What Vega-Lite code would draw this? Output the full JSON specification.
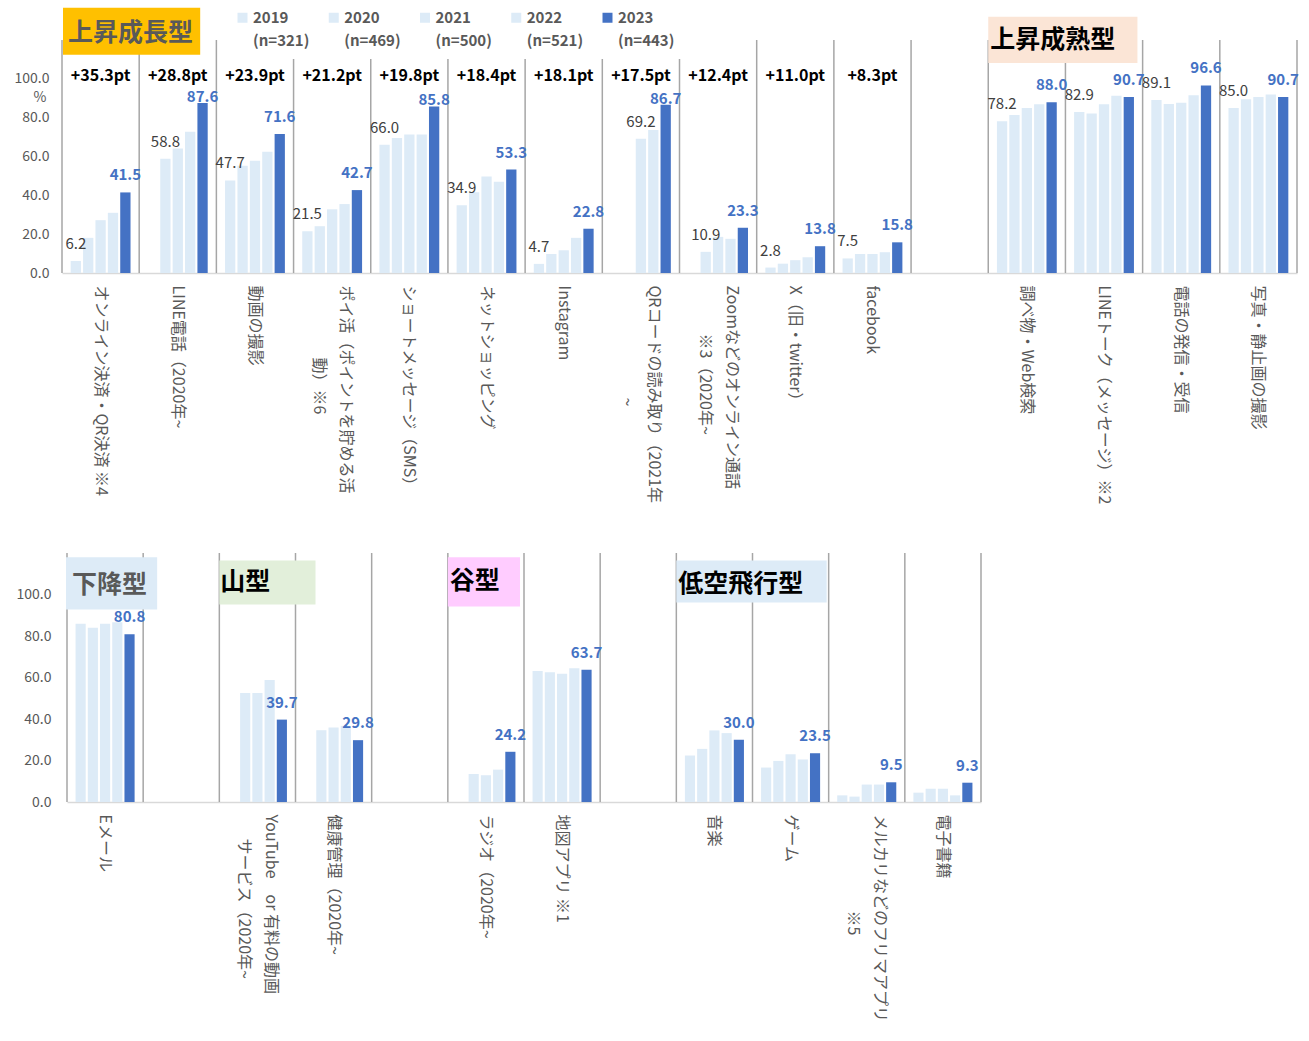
{
  "$schema": "https://vega.github.io/schema/vega-lite/v6.json",
  "padding": {"left": 14, "top": 0, "right": 4, "bottom": 0},
  "background": "white",
  "config": {
    "font": "Noto Sans CJK JP",
    "view": {"stroke": null},
    "axis": {"grid": false, "ticks": false},
    "style": {"guide-label": {"lineHeight": 23}}
  },
  "datasets": {
    "top": [
      {"cat": "オンライン決済・QR決済 ※4", "year": 2019, "value": 6.2},
      {"cat": "オンライン決済・QR決済 ※4", "year": 2020, "value": 18.1},
      {"cat": "オンライン決済・QR決済 ※4", "year": 2021, "value": 27.2},
      {"cat": "オンライン決済・QR決済 ※4", "year": 2022, "value": 31.0},
      {"cat": "オンライン決済・QR決済 ※4", "year": 2023, "value": 41.5},
      {"cat": "LINE電話（2020年~", "year": 2020, "value": 58.8},
      {"cat": "LINE電話（2020年~", "year": 2021, "value": 64.1},
      {"cat": "LINE電話（2020年~", "year": 2022, "value": 72.8},
      {"cat": "LINE電話（2020年~", "year": 2023, "value": 87.6},
      {"cat": "動画の撮影", "year": 2019, "value": 47.7},
      {"cat": "動画の撮影", "year": 2020, "value": 55.2},
      {"cat": "動画の撮影", "year": 2021, "value": 57.8},
      {"cat": "動画の撮影", "year": 2022, "value": 62.4},
      {"cat": "動画の撮影", "year": 2023, "value": 71.6},
      {"cat": "ポイ活（ポイントを貯める活動）※6", "year": 2019, "value": 21.5},
      {"cat": "ポイ活（ポイントを貯める活動）※6", "year": 2020, "value": 24.1},
      {"cat": "ポイ活（ポイントを貯める活動）※6", "year": 2021, "value": 32.8},
      {"cat": "ポイ活（ポイントを貯める活動）※6", "year": 2022, "value": 35.5},
      {"cat": "ポイ活（ポイントを貯める活動）※6", "year": 2023, "value": 42.7},
      {"cat": "ショートメッセージ（SMS）", "year": 2019, "value": 66.0},
      {"cat": "ショートメッセージ（SMS）", "year": 2020, "value": 69.5},
      {"cat": "ショートメッセージ（SMS）", "year": 2021, "value": 71.3},
      {"cat": "ショートメッセージ（SMS）", "year": 2022, "value": 71.3},
      {"cat": "ショートメッセージ（SMS）", "year": 2023, "value": 85.8},
      {"cat": "ネットショッピング", "year": 2019, "value": 34.9},
      {"cat": "ネットショッピング", "year": 2020, "value": 41.6},
      {"cat": "ネットショッピング", "year": 2021, "value": 49.7},
      {"cat": "ネットショッピング", "year": 2022, "value": 47.0},
      {"cat": "ネットショッピング", "year": 2023, "value": 53.3},
      {"cat": "Instagram", "year": 2019, "value": 4.7},
      {"cat": "Instagram", "year": 2020, "value": 9.8},
      {"cat": "Instagram", "year": 2021, "value": 11.7},
      {"cat": "Instagram", "year": 2022, "value": 18.1},
      {"cat": "Instagram", "year": 2023, "value": 22.8},
      {"cat": "QRコードの読み取り（2021年~", "year": 2021, "value": 69.2},
      {"cat": "QRコードの読み取り（2021年~", "year": 2022, "value": 73.6},
      {"cat": "QRコードの読み取り（2021年~", "year": 2023, "value": 86.7},
      {"cat": "Zoomなどのオンライン通話※3（2020年~", "year": 2020, "value": 10.9},
      {"cat": "Zoomなどのオンライン通話※3（2020年~", "year": 2021, "value": 18.6},
      {"cat": "Zoomなどのオンライン通話※3（2020年~", "year": 2022, "value": 17.6},
      {"cat": "Zoomなどのオンライン通話※3（2020年~", "year": 2023, "value": 23.3},
      {"cat": "X（旧・twitter）", "year": 2019, "value": 2.8},
      {"cat": "X（旧・twitter）", "year": 2020, "value": 4.8},
      {"cat": "X（旧・twitter）", "year": 2021, "value": 6.6},
      {"cat": "X（旧・twitter）", "year": 2022, "value": 8.1},
      {"cat": "X（旧・twitter）", "year": 2023, "value": 13.8},
      {"cat": "facebook", "year": 2019, "value": 7.5},
      {"cat": "facebook", "year": 2020, "value": 9.8},
      {"cat": "facebook", "year": 2021, "value": 9.8},
      {"cat": "facebook", "year": 2022, "value": 10.7},
      {"cat": "facebook", "year": 2023, "value": 15.8},
      {"cat": "調べ物・Web検索", "year": 2019, "value": 78.2},
      {"cat": "調べ物・Web検索", "year": 2020, "value": 81.4},
      {"cat": "調べ物・Web検索", "year": 2021, "value": 85.0},
      {"cat": "調べ物・Web検索", "year": 2022, "value": 86.9},
      {"cat": "調べ物・Web検索", "year": 2023, "value": 88.0},
      {"cat": "LINEトーク（メッセージ）※2", "year": 2019, "value": 82.9},
      {"cat": "LINEトーク（メッセージ）※2", "year": 2020, "value": 82.2},
      {"cat": "LINEトーク（メッセージ）※2", "year": 2021, "value": 86.9},
      {"cat": "LINEトーク（メッセージ）※2", "year": 2022, "value": 91.3},
      {"cat": "LINEトーク（メッセージ）※2", "year": 2023, "value": 90.7},
      {"cat": "電話の発信・受信", "year": 2019, "value": 89.1},
      {"cat": "電話の発信・受信", "year": 2020, "value": 87.1},
      {"cat": "電話の発信・受信", "year": 2021, "value": 87.7},
      {"cat": "電話の発信・受信", "year": 2022, "value": 91.5},
      {"cat": "電話の発信・受信", "year": 2023, "value": 96.6},
      {"cat": "写真・静止画の撮影", "year": 2019, "value": 85.0},
      {"cat": "写真・静止画の撮影", "year": 2020, "value": 89.5},
      {"cat": "写真・静止画の撮影", "year": 2021, "value": 90.7},
      {"cat": "写真・静止画の撮影", "year": 2022, "value": 91.9},
      {"cat": "写真・静止画の撮影", "year": 2023, "value": 90.7}
    ],
    "topcats": [
      {"cat": "オンライン決済・QR決済 ※4", "diff": "+35.3pt"},
      {"cat": "LINE電話（2020年~", "diff": "+28.8pt"},
      {"cat": "動画の撮影", "diff": "+23.9pt"},
      {"cat": "ポイ活（ポイントを貯める活動）※6", "diff": "+21.2pt"},
      {"cat": "ショートメッセージ（SMS）", "diff": "+19.8pt"},
      {"cat": "ネットショッピング", "diff": "+18.4pt"},
      {"cat": "Instagram", "diff": "+18.1pt"},
      {"cat": "QRコードの読み取り（2021年~", "diff": "+17.5pt"},
      {"cat": "Zoomなどのオンライン通話※3（2020年~", "diff": "+12.4pt"},
      {"cat": "X（旧・twitter）", "diff": "+11.0pt"},
      {"cat": "facebook", "diff": "+8.3pt"},
      {"cat": " ", "diff": ""},
      {"cat": "調べ物・Web検索", "diff": ""},
      {"cat": "LINEトーク（メッセージ）※2", "diff": ""},
      {"cat": "電話の発信・受信", "diff": ""},
      {"cat": "写真・静止画の撮影", "diff": ""}
    ],
    "bottom": [
      {"cat": "Eメール", "year": 2019, "value": 85.9},
      {"cat": "Eメール", "year": 2020, "value": 84.0},
      {"cat": "Eメール", "year": 2021, "value": 85.9},
      {"cat": "Eメール", "year": 2022, "value": 86.6},
      {"cat": "Eメール", "year": 2023, "value": 80.8},
      {"cat": "YouTube　or 有料の動画サービス（2020年~", "year": 2020, "value": 52.5},
      {"cat": "YouTube　or 有料の動画サービス（2020年~", "year": 2021, "value": 52.5},
      {"cat": "YouTube　or 有料の動画サービス（2020年~", "year": 2022, "value": 58.8},
      {"cat": "YouTube　or 有料の動画サービス（2020年~", "year": 2023, "value": 39.7},
      {"cat": "健康管理（2020年~", "year": 2020, "value": 34.6},
      {"cat": "健康管理（2020年~", "year": 2021, "value": 35.9},
      {"cat": "健康管理（2020年~", "year": 2022, "value": 36.7},
      {"cat": "健康管理（2020年~", "year": 2023, "value": 29.8},
      {"cat": "ラジオ（2020年~", "year": 2020, "value": 13.5},
      {"cat": "ラジオ（2020年~", "year": 2021, "value": 12.9},
      {"cat": "ラジオ（2020年~", "year": 2022, "value": 15.6},
      {"cat": "ラジオ（2020年~", "year": 2023, "value": 24.2},
      {"cat": "地図アプリ ※1", "year": 2019, "value": 63.1},
      {"cat": "地図アプリ ※1", "year": 2020, "value": 62.5},
      {"cat": "地図アプリ ※1", "year": 2021, "value": 61.8},
      {"cat": "地図アプリ ※1", "year": 2022, "value": 64.4},
      {"cat": "地図アプリ ※1", "year": 2023, "value": 63.7},
      {"cat": "音楽", "year": 2019, "value": 22.4},
      {"cat": "音楽", "year": 2020, "value": 25.6},
      {"cat": "音楽", "year": 2021, "value": 34.5},
      {"cat": "音楽", "year": 2022, "value": 33.2},
      {"cat": "音楽", "year": 2023, "value": 30.0},
      {"cat": "ゲーム", "year": 2019, "value": 16.6},
      {"cat": "ゲーム", "year": 2020, "value": 19.8},
      {"cat": "ゲーム", "year": 2021, "value": 23.0},
      {"cat": "ゲーム", "year": 2022, "value": 20.5},
      {"cat": "ゲーム", "year": 2023, "value": 23.5},
      {"cat": "メルカリなどのフリマアプリ※5", "year": 2019, "value": 3.2},
      {"cat": "メルカリなどのフリマアプリ※5", "year": 2020, "value": 2.6},
      {"cat": "メルカリなどのフリマアプリ※5", "year": 2021, "value": 8.4},
      {"cat": "メルカリなどのフリマアプリ※5", "year": 2022, "value": 8.4},
      {"cat": "メルカリなどのフリマアプリ※5", "year": 2023, "value": 9.5},
      {"cat": "電子書籍", "year": 2019, "value": 4.5},
      {"cat": "電子書籍", "year": 2020, "value": 6.4},
      {"cat": "電子書籍", "year": 2021, "value": 6.4},
      {"cat": "電子書籍", "year": 2022, "value": 3.2},
      {"cat": "電子書籍", "year": 2023, "value": 9.3}
    ],
    "botcats": [
      {"cat": "Eメール"}, {"cat": " "}, {"cat": "YouTube　or 有料の動画サービス（2020年~"}, {"cat": "健康管理（2020年~"},
      {"cat": "  "}, {"cat": "ラジオ（2020年~"}, {"cat": "地図アプリ ※1"}, {"cat": "   "},
      {"cat": "音楽"}, {"cat": "ゲーム"}, {"cat": "メルカリなどのフリマアプリ※5"}, {"cat": "電子書籍"}
    ],
    "ann": [
      {"label": "上昇成長型"}, {"label": "上昇成熟型"}, {"label": "下降型"}, {"label": "山型"}, {"label": "谷型"}, {"label": "低空飛行型"}
    ]
  },
  "spacing": 47,
  "resolve": {"scale": {"x": "independent", "y": "independent", "xOffset": "independent"}},
  "vconcat": [
    {
      "width": 1235,
      "height": 233,
      "layer": [
        {
          "data": {"name": "top"},
          "mark": {"type": "bar"},
          "encoding": {
            "x": {"field": "cat", "type": "nominal", "scale": {"domain": ["オンライン決済・QR決済 ※4", "LINE電話（2020年~", "動画の撮影", "ポイ活（ポイントを貯める活動）※6", "ショートメッセージ（SMS）", "ネットショッピング", "Instagram", "QRコードの読み取り（2021年~", "Zoomなどのオンライン通話※3（2020年~", "X（旧・twitter）", "facebook", " ", "調べ物・Web検索", "LINEトーク（メッセージ）※2", "電話の発信・受信", "写真・静止画の撮影"], "paddingInner": 0, "paddingOuter": 0},
              "axis": {"title": null, "labelAngle": 90, "labelAlign": "left", "labelBaseline": "middle", "labelPadding": 12, "labelFontSize": 16, "labelColor": "#595959", "labelLineHeight": 27, "labelLimit": 400, "labelOverlap": false, "labelBound": false, "domainColor": "#D9D9D9", "domainWidth": 1.5,
                "labelOffset": {"condition": {"test": "datum.value == 'ポイ活（ポイントを貯める活動）※6' || datum.value == 'QRコードの読み取り（2021年~' || datum.value == 'Zoomなどのオンライン通話※3（2020年~'", "value": 13.5}, "value": 0},
                "labelExpr": "datum.label == 'ポイ活（ポイントを貯める活動）※6' ? ['ポイ活（ポイントを貯める活', '\u200B\u3000\u3000\u3000\u3000\u2002動）※6'] : datum.label == 'QRコードの読み取り（2021年~' ? ['QRコードの読み取り（2021年', '\u200B\u3000\u3000\u3000\u3000\u3000\u3000\u3000~'] : datum.label == 'Zoomなどのオンライン通話※3（2020年~' ? ['Zoomなどのオンライン通話', '\u200B\u3000\u3000\u3000※3（2020年~'] : datum.label"}},
            "xOffset": {"field": "year", "type": "nominal", "scale": {"domain": [2019, 2020, 2021, 2022, 2023], "paddingInner": 0.17, "paddingOuter": 0.7}},
            "y": {"field": "value", "type": "quantitative", "scale": {"domain": [0, 120]},
              "axis": {"values": [0, 20, 40, 60, 80, 100], "format": ".1f", "domain": false, "labelPadding": 13, "labelFontSize": 14, "labelColor": "#595959", "title": "%", "titleAngle": 0, "titleX": -16, "titleY": 57, "titleAlign": "right", "titleBaseline": "middle", "titleFontWeight": "normal", "titleFontSize": 14, "titleColor": "#595959"}},
            "color": {"field": "year", "type": "nominal", "scale": {"domain": [2019, 2020, 2021, 2022, 2023], "range": ["#DDEBF7", "#DDEBF7", "#DDEBF7", "#DDEBF7", "#4472C4"]},
              "legend": {"title": null, "orient": "none", "legendX": 163, "legendY": -40, "direction": "horizontal", "columns": 5, "columnPadding": 16.25, "symbolType": "square", "symbolSize": 100, "symbolStrokeWidth": 0, "labelFontSize": 15, "labelFontWeight": "bold", "labelColor": "#595959", "labelOffset": 3, "labelBaseline": "middle", "labelLimit": 200, "fillColor": "white", "padding": 10,
                "labelExpr": "datum.value == 2019 ? ['2019', '(n=321)'] : datum.value == 2020 ? ['2020', '(n=469)'] : datum.value == 2021 ? ['2021', '(n=500)'] : datum.value == 2022 ? ['2022', '(n=521)'] : ['2023', '(n=443)']"}}
          }
        },
        {
          "data": {"name": "topcats"},
          "mark": {"type": "rule", "color": "#A6A6A6", "strokeWidth": 1.5},
          "encoding": {
            "x": {"field": "cat", "type": "nominal", "bandPosition": 0, "scale": {"domain": ["オンライン決済・QR決済 ※4", "LINE電話（2020年~", "動画の撮影", "ポイ活（ポイントを貯める活動）※6", "ショートメッセージ（SMS）", "ネットショッピング", "Instagram", "QRコードの読み取り（2021年~", "Zoomなどのオンライン通話※3（2020年~", "X（旧・twitter）", "facebook", " ", "調べ物・Web検索", "LINEトーク（メッセージ）※2", "電話の発信・受信", "写真・静止画の撮影"], "paddingInner": 0, "paddingOuter": 0}},
            "y": {"datum": 0, "type": "quantitative", "scale": {"domain": [0, 120]}},
            "y2": {"datum": 120}
          }
        },
        {
          "data": {"name": "topcats"},
          "transform": [{"filter": "datum.cat == '写真・静止画の撮影'"}],
          "mark": {"type": "rule", "color": "#A6A6A6", "strokeWidth": 1.5},
          "encoding": {
            "x": {"field": "cat", "type": "nominal", "bandPosition": 1, "scale": {"domain": ["オンライン決済・QR決済 ※4", "LINE電話（2020年~", "動画の撮影", "ポイ活（ポイントを貯める活動）※6", "ショートメッセージ（SMS）", "ネットショッピング", "Instagram", "QRコードの読み取り（2021年~", "Zoomなどのオンライン通話※3（2020年~", "X（旧・twitter）", "facebook", " ", "調べ物・Web検索", "LINEトーク（メッセージ）※2", "電話の発信・受信", "写真・静止画の撮影"], "paddingInner": 0, "paddingOuter": 0}},
            "y": {"datum": 0, "type": "quantitative", "scale": {"domain": [0, 120]}},
            "y2": {"datum": 120}
          }
        },
        {
          "data": {"name": "top"},
          "transform": [
            {"joinaggregate": [{"op": "min", "field": "year", "as": "firstYear"}], "groupby": ["cat"]},
            {"filter": "datum.year == datum.firstYear"}
          ],
          "mark": {"type": "text", "baseline": "bottom", "dy": -9, "fontSize": 15, "color": "#404040"},
          "encoding": {
            "x": {"field": "cat", "type": "nominal", "scale": {"domain": ["オンライン決済・QR決済 ※4", "LINE電話（2020年~", "動画の撮影", "ポイ活（ポイントを貯める活動）※6", "ショートメッセージ（SMS）", "ネットショッピング", "Instagram", "QRコードの読み取り（2021年~", "Zoomなどのオンライン通話※3（2020年~", "X（旧・twitter）", "facebook", " ", "調べ物・Web検索", "LINEトーク（メッセージ）※2", "電話の発信・受信", "写真・静止画の撮影"], "paddingInner": 0, "paddingOuter": 0}},
            "xOffset": {"field": "year", "type": "nominal", "scale": {"domain": [2019, 2020, 2021, 2022, 2023], "paddingInner": 0.17, "paddingOuter": 0.7}},
            "y": {"field": "value", "type": "quantitative", "scale": {"domain": [0, 120]}},
            "text": {"field": "value", "type": "quantitative", "format": ".1f"}
          }
        },
        {
          "data": {"name": "top"},
          "transform": [
            {"filter": "datum.year == 2023"},
            {"lookup": "cat", "from": {"data": {"name": "topcats"}, "key": "cat", "fields": ["diff"]}}
          ],
          "mark": {"type": "text", "baseline": "bottom", "dy": {"expr": "datum.diff != '' && datum.value > 80 ? 2 : -9"}, "fontSize": 15, "fontWeight": "bold", "color": "#4472C4"},
          "encoding": {
            "x": {"field": "cat", "type": "nominal", "scale": {"domain": ["オンライン決済・QR決済 ※4", "LINE電話（2020年~", "動画の撮影", "ポイ活（ポイントを貯める活動）※6", "ショートメッセージ（SMS）", "ネットショッピング", "Instagram", "QRコードの読み取り（2021年~", "Zoomなどのオンライン通話※3（2020年~", "X（旧・twitter）", "facebook", " ", "調べ物・Web検索", "LINEトーク（メッセージ）※2", "電話の発信・受信", "写真・静止画の撮影"], "paddingInner": 0, "paddingOuter": 0}},
            "xOffset": {"field": "year", "type": "nominal", "scale": {"domain": [2019, 2020, 2021, 2022, 2023], "paddingInner": 0.17, "paddingOuter": 0.7}},
            "y": {"field": "value", "type": "quantitative", "scale": {"domain": [0, 120]}},
            "text": {"field": "value", "type": "quantitative", "format": ".1f"}
          }
        },
        {
          "data": {"name": "topcats"},
          "transform": [{"filter": "datum.diff != ''"}],
          "mark": {"type": "text", "baseline": "middle", "fontSize": 16, "fontWeight": "bold", "color": "#000000"},
          "encoding": {
            "x": {"field": "cat", "type": "nominal", "scale": {"domain": ["オンライン決済・QR決済 ※4", "LINE電話（2020年~", "動画の撮影", "ポイ活（ポイントを貯める活動）※6", "ショートメッセージ（SMS）", "ネットショッピング", "Instagram", "QRコードの読み取り（2021年~", "Zoomなどのオンライン通話※3（2020年~", "X（旧・twitter）", "facebook", " ", "調べ物・Web検索", "LINEトーク（メッセージ）※2", "電話の発信・受信", "写真・静止画の撮影"], "paddingInner": 0, "paddingOuter": 0}},
            "y": {"datum": 101.5, "type": "quantitative", "scale": {"domain": [0, 120]}},
            "text": {"field": "diff"}
          }
        },
        {
          "data": {"name": "ann"},
          "transform": [{"filter": "datum.label == '上昇成長型'"}],
          "layer": [
            {
              "mark": {"type": "rect", "color": "#FFC000", "xOffset": 1, "x2Offset": 61},
              "encoding": {
                "x": {"datum": "オンライン決済・QR決済 ※4", "type": "nominal", "bandPosition": 0, "scale": {"domain": ["オンライン決済・QR決済 ※4", "LINE電話（2020年~", "動画の撮影", "ポイ活（ポイントを貯める活動）※6", "ショートメッセージ（SMS）", "ネットショッピング", "Instagram", "QRコードの読み取り（2021年~", "Zoomなどのオンライン通話※3（2020年~", "X（旧・twitter）", "facebook", " ", "調べ物・Web検索", "LINEトーク（メッセージ）※2", "電話の発信・受信", "写真・静止画の撮影"], "paddingInner": 0, "paddingOuter": 0}},
                "x2": {"datum": "LINE電話（2020年~", "bandPosition": 0},
                "y": {"datum": 112.4, "type": "quantitative", "scale": {"domain": [0, 120]}},
                "y2": {"datum": 136.6}
              }
            },
            {
              "mark": {"type": "text", "align": "left", "baseline": "middle", "dx": 6, "fontSize": 25, "fontWeight": "bold", "color": "#595959"},
              "encoding": {
                "x": {"datum": "オンライン決済・QR決済 ※4", "type": "nominal", "bandPosition": 0, "scale": {"domain": ["オンライン決済・QR決済 ※4", "LINE電話（2020年~", "動画の撮影", "ポイ活（ポイントを貯める活動）※6", "ショートメッセージ（SMS）", "ネットショッピング", "Instagram", "QRコードの読み取り（2021年~", "Zoomなどのオンライン通話※3（2020年~", "X（旧・twitter）", "facebook", " ", "調べ物・Web検索", "LINEトーク（メッセージ）※2", "電話の発信・受信", "写真・静止画の撮影"], "paddingInner": 0, "paddingOuter": 0}},
                "y": {"datum": 123.7, "type": "quantitative", "scale": {"domain": [0, 120]}},
                "text": {"field": "label"}
              }
            }
          ]
        },
        {
          "data": {"name": "ann"},
          "transform": [{"filter": "datum.label == '上昇成熟型'"}],
          "layer": [
            {
              "mark": {"type": "rect", "color": "#FBE5D6", "xOffset": 0, "x2Offset": 72},
              "encoding": {
                "x": {"datum": "調べ物・Web検索", "type": "nominal", "bandPosition": 0, "scale": {"domain": ["オンライン決済・QR決済 ※4", "LINE電話（2020年~", "動画の撮影", "ポイ活（ポイントを貯める活動）※6", "ショートメッセージ（SMS）", "ネットショッピング", "Instagram", "QRコードの読み取り（2021年~", "Zoomなどのオンライン通話※3（2020年~", "X（旧・twitter）", "facebook", " ", "調べ物・Web検索", "LINEトーク（メッセージ）※2", "電話の発信・受信", "写真・静止画の撮影"], "paddingInner": 0, "paddingOuter": 0}},
                "x2": {"datum": "LINEトーク（メッセージ）※2", "bandPosition": 0},
                "y": {"datum": 108.2, "type": "quantitative", "scale": {"domain": [0, 120]}},
                "y2": {"datum": 132}
              }
            },
            {
              "mark": {"type": "text", "align": "left", "baseline": "middle", "dx": 2, "fontSize": 25, "fontWeight": "bold", "color": "#000000"},
              "encoding": {
                "x": {"datum": "調べ物・Web検索", "type": "nominal", "bandPosition": 0, "scale": {"domain": ["オンライン決済・QR決済 ※4", "LINE電話（2020年~", "動画の撮影", "ポイ活（ポイントを貯める活動）※6", "ショートメッセージ（SMS）", "ネットショッピング", "Instagram", "QRコードの読み取り（2021年~", "Zoomなどのオンライン通話※3（2020年~", "X（旧・twitter）", "facebook", " ", "調べ物・Web検索", "LINEトーク（メッセージ）※2", "電話の発信・受信", "写真・静止画の撮影"], "paddingInner": 0, "paddingOuter": 0}},
                "y": {"datum": 120.1, "type": "quantitative", "scale": {"domain": [0, 120]}},
                "text": {"field": "label"}
              }
            }
          ]
        }
      ]
    },
    {
      "width": 919,
      "height": 249,
      "layer": [
        {
          "data": {"name": "bottom"},
          "mark": {"type": "bar"},
          "encoding": {
            "x": {"field": "cat", "type": "nominal", "scale": {"domain": ["Eメール", " ", "YouTube　or 有料の動画サービス（2020年~", "健康管理（2020年~", "  ", "ラジオ（2020年~", "地図アプリ ※1", "   ", "音楽", "ゲーム", "メルカリなどのフリマアプリ※5", "電子書籍"], "range": [5, 919], "paddingInner": 0, "paddingOuter": 0},
              "axis": {"title": null, "labelAngle": 90, "labelAlign": "left", "labelBaseline": "middle", "labelPadding": 12, "labelFontSize": 16, "labelColor": "#595959", "labelLineHeight": 27, "labelLimit": 400, "labelOverlap": false, "labelBound": false, "domainColor": "#D9D9D9", "domainWidth": 1.5,
                "labelOffset": {"condition": {"test": "datum.value == 'YouTube　or 有料の動画サービス（2020年~' || datum.value == 'メルカリなどのフリマアプリ※5'", "value": 13.5}, "value": 0},
                "labelExpr": "datum.label == 'YouTube　or 有料の動画サービス（2020年~' ? ['YouTube　or 有料の動画', '\u200B\u3000\u2002サービス（2020年~'] : datum.label == 'メルカリなどのフリマアプリ※5' ? ['メルカリなどのフリマアプリ', '\u200B\u3000\u3000\u3000\u3000\u3000\u3000※5'] : datum.label"}},
            "xOffset": {"field": "year", "type": "nominal", "scale": {"domain": [2019, 2020, 2021, 2022, 2023], "paddingInner": 0.17, "paddingOuter": 0.7}},
            "y": {"field": "value", "type": "quantitative", "scale": {"domain": [0, 120]},
              "axis": {"values": [0, 20, 40, 60, 80, 100], "format": ".1f", "domain": false, "labelPadding": 11, "labelFontSize": 14, "labelColor": "#595959", "title": null}},
            "color": {"field": "year", "type": "nominal", "scale": {"domain": [2019, 2020, 2021, 2022, 2023], "range": ["#DDEBF7", "#DDEBF7", "#DDEBF7", "#DDEBF7", "#4472C4"]}, "legend": null}
          }
        },
        {
          "data": {"name": "botcats"},
          "mark": {"type": "rule", "color": "#A6A6A6", "strokeWidth": 1.5},
          "encoding": {
            "x": {"field": "cat", "type": "nominal", "bandPosition": 0, "scale": {"domain": ["Eメール", " ", "YouTube　or 有料の動画サービス（2020年~", "健康管理（2020年~", "  ", "ラジオ（2020年~", "地図アプリ ※1", "   ", "音楽", "ゲーム", "メルカリなどのフリマアプリ※5", "電子書籍"], "range": [5, 919], "paddingInner": 0, "paddingOuter": 0}},
            "y": {"datum": 0, "type": "quantitative", "scale": {"domain": [0, 120]}},
            "y2": {"datum": 120}
          }
        },
        {
          "data": {"name": "botcats"},
          "transform": [{"filter": "datum.cat == '電子書籍'"}],
          "mark": {"type": "rule", "color": "#A6A6A6", "strokeWidth": 1.5},
          "encoding": {
            "x": {"field": "cat", "type": "nominal", "bandPosition": 1, "scale": {"domain": ["Eメール", " ", "YouTube　or 有料の動画サービス（2020年~", "健康管理（2020年~", "  ", "ラジオ（2020年~", "地図アプリ ※1", "   ", "音楽", "ゲーム", "メルカリなどのフリマアプリ※5", "電子書籍"], "range": [5, 919], "paddingInner": 0, "paddingOuter": 0}},
            "y": {"datum": 0, "type": "quantitative", "scale": {"domain": [0, 120]}},
            "y2": {"datum": 120}
          }
        },
        {
          "data": {"name": "bottom"},
          "transform": [{"filter": "datum.year == 2023"}],
          "mark": {"type": "text", "baseline": "bottom", "dy": -9, "fontSize": 15, "fontWeight": "bold", "color": "#4472C4"},
          "encoding": {
            "x": {"field": "cat", "type": "nominal", "scale": {"domain": ["Eメール", " ", "YouTube　or 有料の動画サービス（2020年~", "健康管理（2020年~", "  ", "ラジオ（2020年~", "地図アプリ ※1", "   ", "音楽", "ゲーム", "メルカリなどのフリマアプリ※5", "電子書籍"], "range": [5, 919], "paddingInner": 0, "paddingOuter": 0}},
            "xOffset": {"field": "year", "type": "nominal", "scale": {"domain": [2019, 2020, 2021, 2022, 2023], "paddingInner": 0.17, "paddingOuter": 0.7}},
            "y": {"field": "value", "type": "quantitative", "scale": {"domain": [0, 120]}},
            "text": {"field": "value", "type": "quantitative", "format": ".1f"}
          }
        },
        {
          "data": {"name": "ann"},
          "transform": [{"filter": "datum.label == '下降型'"}],
          "layer": [
            {
              "mark": {"type": "rect", "color": "#DDEBF7", "xOffset": -1, "x2Offset": 14},
              "encoding": {
                "x": {"datum": "Eメール", "type": "nominal", "bandPosition": 0, "scale": {"domain": ["Eメール", " ", "YouTube　or 有料の動画サービス（2020年~", "健康管理（2020年~", "  ", "ラジオ（2020年~", "地図アプリ ※1", "   ", "音楽", "ゲーム", "メルカリなどのフリマアプリ※5", "電子書籍"], "range": [5, 919], "paddingInner": 0, "paddingOuter": 0}},
                "x2": {"datum": " ", "bandPosition": 0},
                "y": {"datum": 92.8, "type": "quantitative", "scale": {"domain": [0, 120]}},
                "y2": {"datum": 117.9}
              }
            },
            {
              "mark": {"type": "text", "align": "left", "baseline": "middle", "dx": 5, "fontSize": 25, "fontWeight": "bold", "color": "#595959"},
              "encoding": {
                "x": {"datum": "Eメール", "type": "nominal", "bandPosition": 0, "scale": {"domain": ["Eメール", " ", "YouTube　or 有料の動画サービス（2020年~", "健康管理（2020年~", "  ", "ラジオ（2020年~", "地図アプリ ※1", "   ", "音楽", "ゲーム", "メルカリなどのフリマアプリ※5", "電子書籍"], "range": [5, 919], "paddingInner": 0, "paddingOuter": 0}},
                "y": {"datum": 104.8, "type": "quantitative", "scale": {"domain": [0, 120]}},
                "text": {"field": "label"}
              }
            }
          ]
        },
        {
          "data": {"name": "ann"},
          "transform": [{"filter": "datum.label == '山型'"}],
          "layer": [
            {
              "mark": {"type": "rect", "color": "#E2EFDA", "xOffset": 0, "x2Offset": 20},
              "encoding": {
                "x": {"datum": "YouTube　or 有料の動画サービス（2020年~", "type": "nominal", "bandPosition": 0, "scale": {"domain": ["Eメール", " ", "YouTube　or 有料の動画サービス（2020年~", "健康管理（2020年~", "  ", "ラジオ（2020年~", "地図アプリ ※1", "   ", "音楽", "ゲーム", "メルカリなどのフリマアプリ※5", "電子書籍"], "range": [5, 919], "paddingInner": 0, "paddingOuter": 0}},
                "x2": {"datum": "健康管理（2020年~", "bandPosition": 0},
                "y": {"datum": 95.2, "type": "quantitative", "scale": {"domain": [0, 120]}},
                "y2": {"datum": 116.4}
              }
            },
            {
              "mark": {"type": "text", "align": "left", "baseline": "middle", "dx": 1, "fontSize": 25, "fontWeight": "bold", "color": "#000000"},
              "encoding": {
                "x": {"datum": "YouTube　or 有料の動画サービス（2020年~", "type": "nominal", "bandPosition": 0, "scale": {"domain": ["Eメール", " ", "YouTube　or 有料の動画サービス（2020年~", "健康管理（2020年~", "  ", "ラジオ（2020年~", "地図アプリ ※1", "   ", "音楽", "ゲーム", "メルカリなどのフリマアプリ※5", "電子書籍"], "range": [5, 919], "paddingInner": 0, "paddingOuter": 0}},
                "y": {"datum": 105.8, "type": "quantitative", "scale": {"domain": [0, 120]}},
                "text": {"field": "label"}
              }
            }
          ]
        },
        {
          "data": {"name": "ann"},
          "transform": [{"filter": "datum.label == '谷型'"}],
          "layer": [
            {
              "mark": {"type": "rect", "color": "#FFCCFF", "xOffset": 0, "x2Offset": -4},
              "encoding": {
                "x": {"datum": "ラジオ（2020年~", "type": "nominal", "bandPosition": 0, "scale": {"domain": ["Eメール", " ", "YouTube　or 有料の動画サービス（2020年~", "健康管理（2020年~", "  ", "ラジオ（2020年~", "地図アプリ ※1", "   ", "音楽", "ゲーム", "メルカリなどのフリマアプリ※5", "電子書籍"], "range": [5, 919], "paddingInner": 0, "paddingOuter": 0}},
                "x2": {"datum": "地図アプリ ※1", "bandPosition": 0},
                "y": {"datum": 94.2, "type": "quantitative", "scale": {"domain": [0, 120]}},
                "y2": {"datum": 117.9}
              }
            },
            {
              "mark": {"type": "text", "align": "left", "baseline": "middle", "dx": 2, "fontSize": 25, "fontWeight": "bold", "color": "#000000"},
              "encoding": {
                "x": {"datum": "ラジオ（2020年~", "type": "nominal", "bandPosition": 0, "scale": {"domain": ["Eメール", " ", "YouTube　or 有料の動画サービス（2020年~", "健康管理（2020年~", "  ", "ラジオ（2020年~", "地図アプリ ※1", "   ", "音楽", "ゲーム", "メルカリなどのフリマアプリ※5", "電子書籍"], "range": [5, 919], "paddingInner": 0, "paddingOuter": 0}},
                "y": {"datum": 106.3, "type": "quantitative", "scale": {"domain": [0, 120]}},
                "text": {"field": "label"}
              }
            }
          ]
        },
        {
          "data": {"name": "ann"},
          "transform": [{"filter": "datum.label == '低空飛行型'"}],
          "layer": [
            {
              "mark": {"type": "rect", "color": "#DDEBF7", "xOffset": 0, "x2Offset": -2},
              "encoding": {
                "x": {"datum": "音楽", "type": "nominal", "bandPosition": 0, "scale": {"domain": ["Eメール", " ", "YouTube　or 有料の動画サービス（2020年~", "健康管理（2020年~", "  ", "ラジオ（2020年~", "地図アプリ ※1", "   ", "音楽", "ゲーム", "メルカリなどのフリマアプリ※5", "電子書籍"], "range": [5, 919], "paddingInner": 0, "paddingOuter": 0}},
                "x2": {"datum": "メルカリなどのフリマアプリ※5", "bandPosition": 0},
                "y": {"datum": 96.1, "type": "quantitative", "scale": {"domain": [0, 120]}},
                "y2": {"datum": 116.4}
              }
            },
            {
              "mark": {"type": "text", "align": "left", "baseline": "middle", "dx": 2, "fontSize": 25, "fontWeight": "bold", "color": "#000000"},
              "encoding": {
                "x": {"datum": "音楽", "type": "nominal", "bandPosition": 0, "scale": {"domain": ["Eメール", " ", "YouTube　or 有料の動画サービス（2020年~", "健康管理（2020年~", "  ", "ラジオ（2020年~", "地図アプリ ※1", "   ", "音楽", "ゲーム", "メルカリなどのフリマアプリ※5", "電子書籍"], "range": [5, 919], "paddingInner": 0, "paddingOuter": 0}},
                "y": {"datum": 105.3, "type": "quantitative", "scale": {"domain": [0, 120]}},
                "text": {"field": "label"}
              }
            }
          ]
        }
      ]
    }
  ]
}
